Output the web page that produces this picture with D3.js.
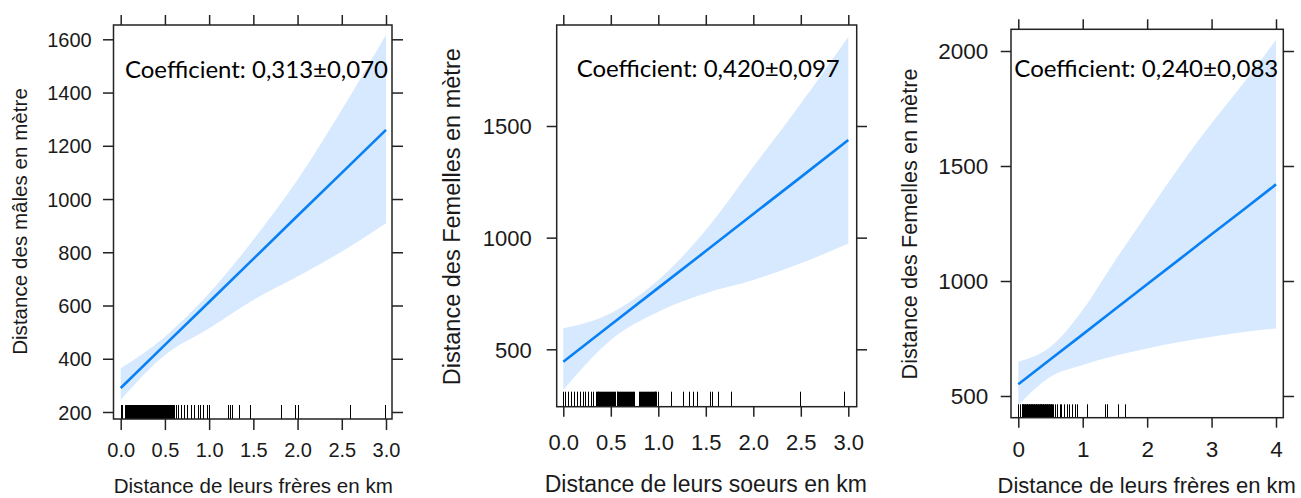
<!DOCTYPE html>
<html>
<head>
<meta charset="utf-8">
<script src="https://cdn.jsdelivr.net/npm/d3@7"></script>
<style>
  html, body { margin: 0; padding: 0; background: #fff; }
  svg { display: block; }
</style>
</head>
<body>
<svg id="chart" width="1301" height="498"></svg>
<script>
// ---------- DATA ----------
// Panel 1 : males vs brothers
const p1Grid  = [0, 0.5, 1, 1.5, 2, 2.5, 3];
const p1Fit   = [290, 452, 613, 775, 937, 1098, 1260];
const p1Upper = [364, 483, 646, 847, 1072, 1335, 1617];
const p1Lower = [245, 414, 515, 621, 709, 803, 909];
const p1Rug = [0.0, 0.015, 0.05,
  0.064, 0.07, 0.08, 0.09, 0.10, 0.11, 0.12, 0.13, 0.14, 0.15, 0.16, 0.17, 0.18, 0.19, 0.20,
  0.21, 0.22, 0.23, 0.24, 0.25, 0.26, 0.27, 0.28, 0.29, 0.30, 0.31, 0.32, 0.33, 0.34, 0.35,
  0.36, 0.37, 0.38, 0.39, 0.40, 0.41, 0.42, 0.43, 0.44, 0.45, 0.46, 0.47, 0.48, 0.49, 0.50,
  0.51, 0.52, 0.53, 0.54, 0.55, 0.56, 0.57, 0.58, 0.59, 0.60,
  0.62, 0.65, 0.68, 0.72, 0.75, 0.79, 0.83, 0.875, 0.90, 0.93, 0.98, 1.0,
  1.21, 1.24, 1.26, 1.34, 1.46, 1.81, 1.97, 2.0, 2.59, 2.99];
const p1XTicks = [0, 0.5, 1, 1.5, 2, 2.5, 3];
const p1YTicks = [200, 400, 600, 800, 1000, 1200, 1400, 1600];

// Panel 2 : females vs sisters
const p2Grid  = [0, 0.5, 1, 1.5, 2, 2.5, 3];
const p2Fit   = [444, 610, 775, 940, 1106, 1271, 1437];
const p2Upper = [594, 662, 810, 1034, 1317, 1601, 1899];
const p2Lower = [318, 542, 668, 751, 810, 885, 974];
const p2Rug = [0.0, 0.021, 0.046, 0.081, 0.116, 0.14, 0.176, 0.204, 0.232, 0.26, 0.29, 0.316,
  0.34, 0.35, 0.36, 0.37, 0.38, 0.39, 0.40, 0.41, 0.42, 0.43, 0.44, 0.45, 0.46, 0.47, 0.48,
  0.49, 0.50, 0.51, 0.52, 0.53, 0.54, 0.56, 0.57, 0.58, 0.59, 0.60, 0.61, 0.62, 0.63, 0.64,
  0.65, 0.66, 0.67, 0.68, 0.69, 0.70, 0.71, 0.72, 0.73, 0.74,
  0.80, 0.81, 0.82, 0.83, 0.84, 0.85, 0.86, 0.87, 0.88, 0.89, 0.90, 0.91, 0.92, 0.93, 0.94,
  0.95, 0.96, 0.97, 0.98, 1.0,
  1.13, 1.26, 1.32, 1.37, 1.41, 1.54, 1.56, 1.63, 1.77, 2.49, 2.95];
const p2XTicks = [0, 0.5, 1, 1.5, 2, 2.5, 3];
const p2YTicks = [500, 1000, 1500];

// Panel 3 : females vs brothers
const p3Grid  = [0, 0.5, 1, 1.5, 2, 2.5, 3, 3.5, 4];
const p3Fit   = [551, 660, 768, 877, 986, 1094, 1203, 1311, 1420];
const p3Upper = [649, 714, 874, 1088, 1294, 1497, 1686, 1862, 2048];
const p3Lower = [461, 584, 635, 675, 707, 735, 758, 778, 794];
const p3Rug = [0.0, 0.026,
  0.05, 0.06, 0.07, 0.08, 0.09, 0.10, 0.11, 0.12, 0.13, 0.14, 0.15, 0.16, 0.17, 0.18, 0.19,
  0.20, 0.21, 0.22, 0.23, 0.24, 0.25, 0.26, 0.27, 0.28, 0.29, 0.30, 0.31, 0.32, 0.33, 0.34,
  0.35, 0.36, 0.37, 0.38, 0.39, 0.40, 0.41, 0.42, 0.43, 0.44, 0.45, 0.46, 0.47, 0.48, 0.49,
  0.50, 0.51, 0.52,
  0.54, 0.57, 0.60, 0.64, 0.67, 0.71, 0.75, 0.79, 0.83, 0.88, 0.91,
  1.07, 1.35, 1.38, 1.54, 1.65];
const p3XTicks = [0, 1, 2, 3, 4];
const p3YTicks = [500, 1000, 1500, 2000];

const coefLabels = ["Coefficient: 0,313±0,070", "Coefficient: 0,420±0,097", "Coefficient: 0,240±0,083"];
const xTitles = ["Distance de leurs frères en km", "Distance de leurs soeurs en km", "Distance de leurs frères en km"];
const yTitles = ["Distance des mâles en mètre", "Distance des Femelles en mètre", "Distance des Femelles en mètre"];

// ---------- LAYOUT ----------
const panels = [
  { grid: p1Grid, fit: p1Fit, upper: p1Upper, lower: p1Lower, rug: p1Rug, xTicks: p1XTicks, yTicks: p1YTicks,
    fmt: d3.format(".1f"),
    frame: { x0: 113.5, x1: 392, y0: 25, y1: 419 },
    xMap: [0, 3, 120.7, 386], yMap: [200, 1600, 412, 39.3],
    tick: { l: 10.5, r: 11, t: 10, b: 11 }, tickFont: 20, yLabRight: 91.7, xLabBase: 456.5,
    rugLen: 14,
    coef: { x: 125, y: 78.3, len: 263, size: 24 },
    xTitle: { x: 253.3, y: 493.3, size: 20.6 }, yTitle: { x: 26.5, y: 221.5, size: 20.6 } },
  { grid: p2Grid, fit: p2Fit, upper: p2Upper, lower: p2Lower, rug: p2Rug, xTicks: p2XTicks, yTicks: p2YTicks,
    fmt: d3.format(".1f"),
    frame: { x0: 556.7, x1: 856.7, y0: 25, y1: 406.7 },
    xMap: [0, 3, 563.3, 848.3], yMap: [500, 1500, 349.3, 126],
    tick: { l: 10, r: 10.3, t: 10, b: 10 }, tickFont: 22, yLabRight: 531.7, xLabBase: 450,
    rugLen: 15,
    coef: { x: 576.7, y: 77.3, len: 263, size: 24 },
    xTitle: { x: 705.8, y: 491.7, size: 23 }, yTitle: { x: 460, y: 216.7, size: 23.5 } },
  { grid: p3Grid, fit: p3Fit, upper: p3Upper, lower: p3Lower, rug: p3Rug, xTicks: p3XTicks, yTicks: p3YTicks,
    fmt: d3.format("d"),
    frame: { x0: 1011, x1: 1283.3, y0: 29.3, y1: 417.7 },
    xMap: [0, 4, 1018.3, 1276], yMap: [500, 2000, 396, 51],
    tick: { l: 10.3, r: 10.7, t: 10, b: 10 }, tickFont: 22.5, yLabRight: 988.3, xLabBase: 456.7,
    rugLen: 13.4,
    coef: { x: 1014.3, y: 77.3, len: 264, size: 24 },
    xTitle: { x: 1146.7, y: 493, size: 22 }, yTitle: { x: 916.5, y: 224, size: 21.7 } }
];

const svg = d3.select("#chart");
const FONT = "'Liberation Sans', Arial, sans-serif";
const INK = "#1a1a1a";
const FRAME = "#222";

panels.forEach((p, i) => {
  const x = d3.scaleLinear().domain([p.xMap[0], p.xMap[1]]).range([p.xMap[2], p.xMap[3]]);
  const y = d3.scaleLinear().domain([p.yMap[0], p.yMap[1]]).range([p.yMap[2], p.yMap[3]]);
  const f = p.frame;
  const g = svg.append("g");

  const clipId = "clip" + i;
  svg.append("defs").append("clipPath").attr("id", clipId)
    .append("rect").attr("x", f.x0).attr("y", f.y0).attr("width", f.x1 - f.x0).attr("height", f.y1 - f.y0);

  const plot = g.append("g").attr("clip-path", `url(#${clipId})`);

  const rows = p.grid.map((gx, k) => ({ x: gx, fit: p.fit[k], lo: p.lower[k], hi: p.upper[k] }));

  // confidence band
  plot.append("path")
    .datum(rows)
    .attr("fill", "#d6e9fe")
    .attr("stroke", "none")
    .attr("d", d3.area().x(d => x(d.x)).y0(d => y(d.lo)).y1(d => y(d.hi)).curve(d3.curveMonotoneX));

  // fitted line
  plot.append("path")
    .datum(rows)
    .attr("fill", "none")
    .attr("stroke", "#0a80f5")
    .attr("stroke-width", 2.6)
    .attr("d", d3.line().x(d => x(d.x)).y(d => y(d.fit)));

  // rug
  plot.append("g").selectAll("line").data(p.rug).join("line")
    .attr("x1", d => Math.round(x(d)) + 0.5).attr("x2", d => Math.round(x(d)) + 0.5)
    .attr("y1", f.y1).attr("y2", f.y1 - p.rugLen)
    .attr("stroke", "#000").attr("stroke-width", 1);

  // frame
  g.append("rect")
    .attr("x", f.x0).attr("y", f.y0).attr("width", f.x1 - f.x0).attr("height", f.y1 - f.y0)
    .attr("fill", "none").attr("stroke", FRAME).attr("stroke-width", 1.5);

  // axes
  const styleAxis = sel => {
    sel.select(".domain").remove();
    sel.selectAll(".tick line").attr("stroke", FRAME).attr("stroke-width", 1.5);
    sel.selectAll("text").attr("fill", INK).style("font-family", FONT).style("font-size", p.tickFont + "px");
  };

  const left = g.append("g").attr("transform", `translate(${f.x0},0)`)
    .call(d3.axisLeft(y).tickValues(p.yTicks).tickSize(p.tick.l).tickSizeOuter(0).tickFormat(d3.format("d")))
    .call(styleAxis);
  left.selectAll("text").attr("x", p.yLabRight - f.x0).attr("dy", "0.35em").attr("text-anchor", "end");

  g.append("g").attr("transform", `translate(${f.x1},0)`)
    .call(d3.axisRight(y).tickValues(p.yTicks).tickSize(p.tick.r).tickSizeOuter(0).tickFormat(() => ""))
    .call(styleAxis);

  const bottom = g.append("g").attr("transform", `translate(0,${f.y1})`)
    .call(d3.axisBottom(x).tickValues(p.xTicks).tickSize(p.tick.b).tickSizeOuter(0).tickFormat(p.fmt))
    .call(styleAxis);
  bottom.selectAll("text").attr("y", p.xLabBase - f.y1).attr("dy", 0);

  g.append("g").attr("transform", `translate(0,${f.y0})`)
    .call(d3.axisTop(x).tickValues(p.xTicks).tickSize(p.tick.t).tickSizeOuter(0).tickFormat(() => ""))
    .call(styleAxis);

  // coefficient annotation
  g.append("text")
    .attr("x", p.coef.x).attr("y", p.coef.y)
    .attr("textLength", p.coef.len).attr("lengthAdjust", "spacingAndGlyphs")
    .style("font-family", "Lato, 'Open Sans', sans-serif")
    .style("font-size", p.coef.size + "px")
    .attr("fill", "#000")
    .text(coefLabels[i]);

  // axis titles
  g.append("text")
    .attr("x", p.xTitle.x).attr("y", p.xTitle.y)
    .attr("text-anchor", "middle")
    .style("font-family", FONT).style("font-size", p.xTitle.size + "px")
    .attr("fill", INK)
    .text(xTitles[i]);

  g.append("text")
    .attr("transform", `translate(${p.yTitle.x},${p.yTitle.y}) rotate(-90)`)
    .attr("text-anchor", "middle")
    .style("font-family", FONT).style("font-size", p.yTitle.size + "px")
    .attr("fill", INK)
    .text(yTitles[i]);
});
</script>
</body>
</html>
